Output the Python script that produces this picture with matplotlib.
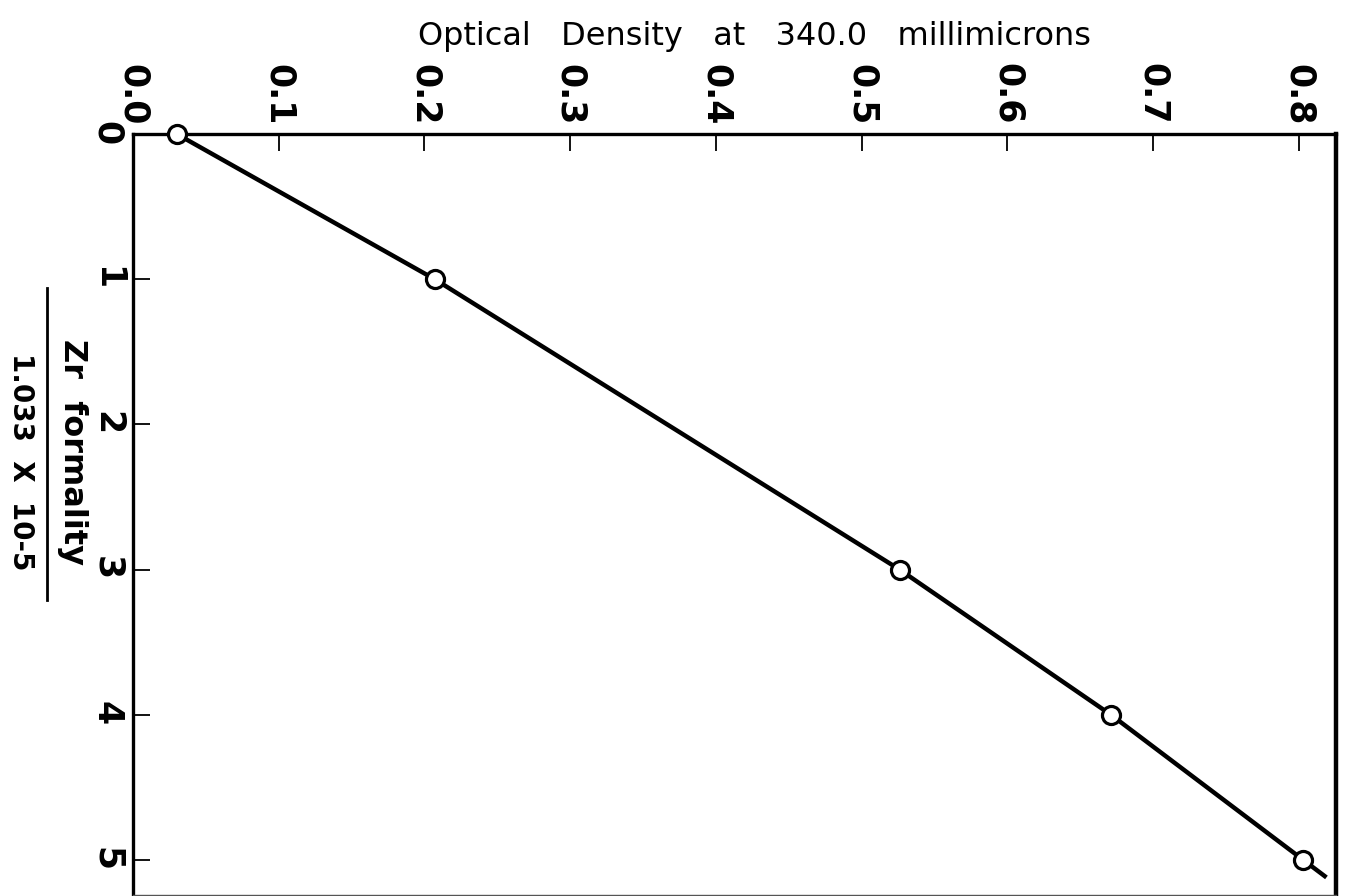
import matplotlib
matplotlib.use("Agg")
import matplotlib.pyplot as plt
from matplotlib.lines import Line2D

# Zr formality (units of 1.033 x 10^-5) and measured optical density at 340.0 mu
formality = [0, 1, 3, 4, 5]
optical_density = [0.030, 0.207, 0.526, 0.671, 0.803]

density_ticks = [0.0, 0.1, 0.2, 0.3, 0.4, 0.5, 0.6, 0.7, 0.8]
density_labels = ["0.0", "0.1", "0.2", "0.3", "0.4", "0.5", "0.6", "0.7", "0.8"]
formality_ticks = [0, 1, 2, 3, 4, 5]
formality_labels = ["0", "1", "2", "3", "4", "5"]

W, H = 1348, 896
fig = plt.figure(figsize=(W / 100, H / 100), dpi=100)
fig.patch.set_facecolor("white")

# axes box in pixel terms: x 133..1336, y 134..895 (from top)
ax = fig.add_axes([133 / W, 1 / H, (1336 - 133) / W, (895 - 134) / H])
ax.set_xlim(0, 0.8254)
ax.set_ylim(5.241, 0)

# curve drawn through the points, carried slightly past the last one
ext = 0.12
x_end = optical_density[-1] + ext * (optical_density[-1] - optical_density[-2]) / (formality[-1] - formality[-2])
y_end = formality[-1] + ext
ax.plot(optical_density + [x_end], formality + [y_end], color="black", lw=3.2,
        solid_capstyle="butt", zorder=3)
ax.plot(optical_density, formality, linestyle="none", marker="o", ms=13,
        mfc="white", mec="black", mew=2.3, zorder=4, clip_on=False)

# ticks: density along the top, formality along the left, pointing inward
ax.xaxis.set_ticks_position("top")
ax.xaxis.set_label_position("top")
ax.set_xticks(density_ticks)
ax.set_xticklabels(density_labels)
ax.set_yticks(formality_ticks)
ax.set_yticklabels(formality_labels)
ax.tick_params(axis="x", which="both", direction="in", length=12, width=1.3,
               pad=6.5, labelsize=25, top=True, bottom=False)
ax.tick_params(axis="y", which="both", direction="in", length=12, width=1.3,
               pad=6.5, labelsize=25, left=True, right=False)
for lab in ax.get_xticklabels() + ax.get_yticklabels():
    lab.set_rotation(-90)
    lab.set_fontweight("bold")

for side in ["top", "left"]:
    ax.spines[side].set_linewidth(2.4)
ax.spines["right"].set_linewidth(3.2)
ax.spines["bottom"].set_linewidth(1.0)
ax.spines["bottom"].set_color("#555555")

# title across the top
fig.text(755 / W, 1 - 36 / H, "Optical   Density   at   340.0   millimicrons",
         fontsize=23, ha="center", va="center")

# formality label written as a fraction, turned with the tick labels
fig.text(72 / W, 1 - 452 / H, "Zr  formality", fontsize=23, fontweight="bold",
         rotation=-90, ha="center", va="center")
fig.text(21 / W, 1 - 462 / H, "1.033  X  10-5", fontsize=20, fontweight="bold",
         rotation=-90, ha="center", va="center")
fig.add_artist(Line2D([47 / W, 47 / W], [1 - 288 / H, 1 - 600 / H],
                      transform=fig.transFigure, color="black", lw=2.0))

fig.savefig("out.png", dpi=100, facecolor="white")
